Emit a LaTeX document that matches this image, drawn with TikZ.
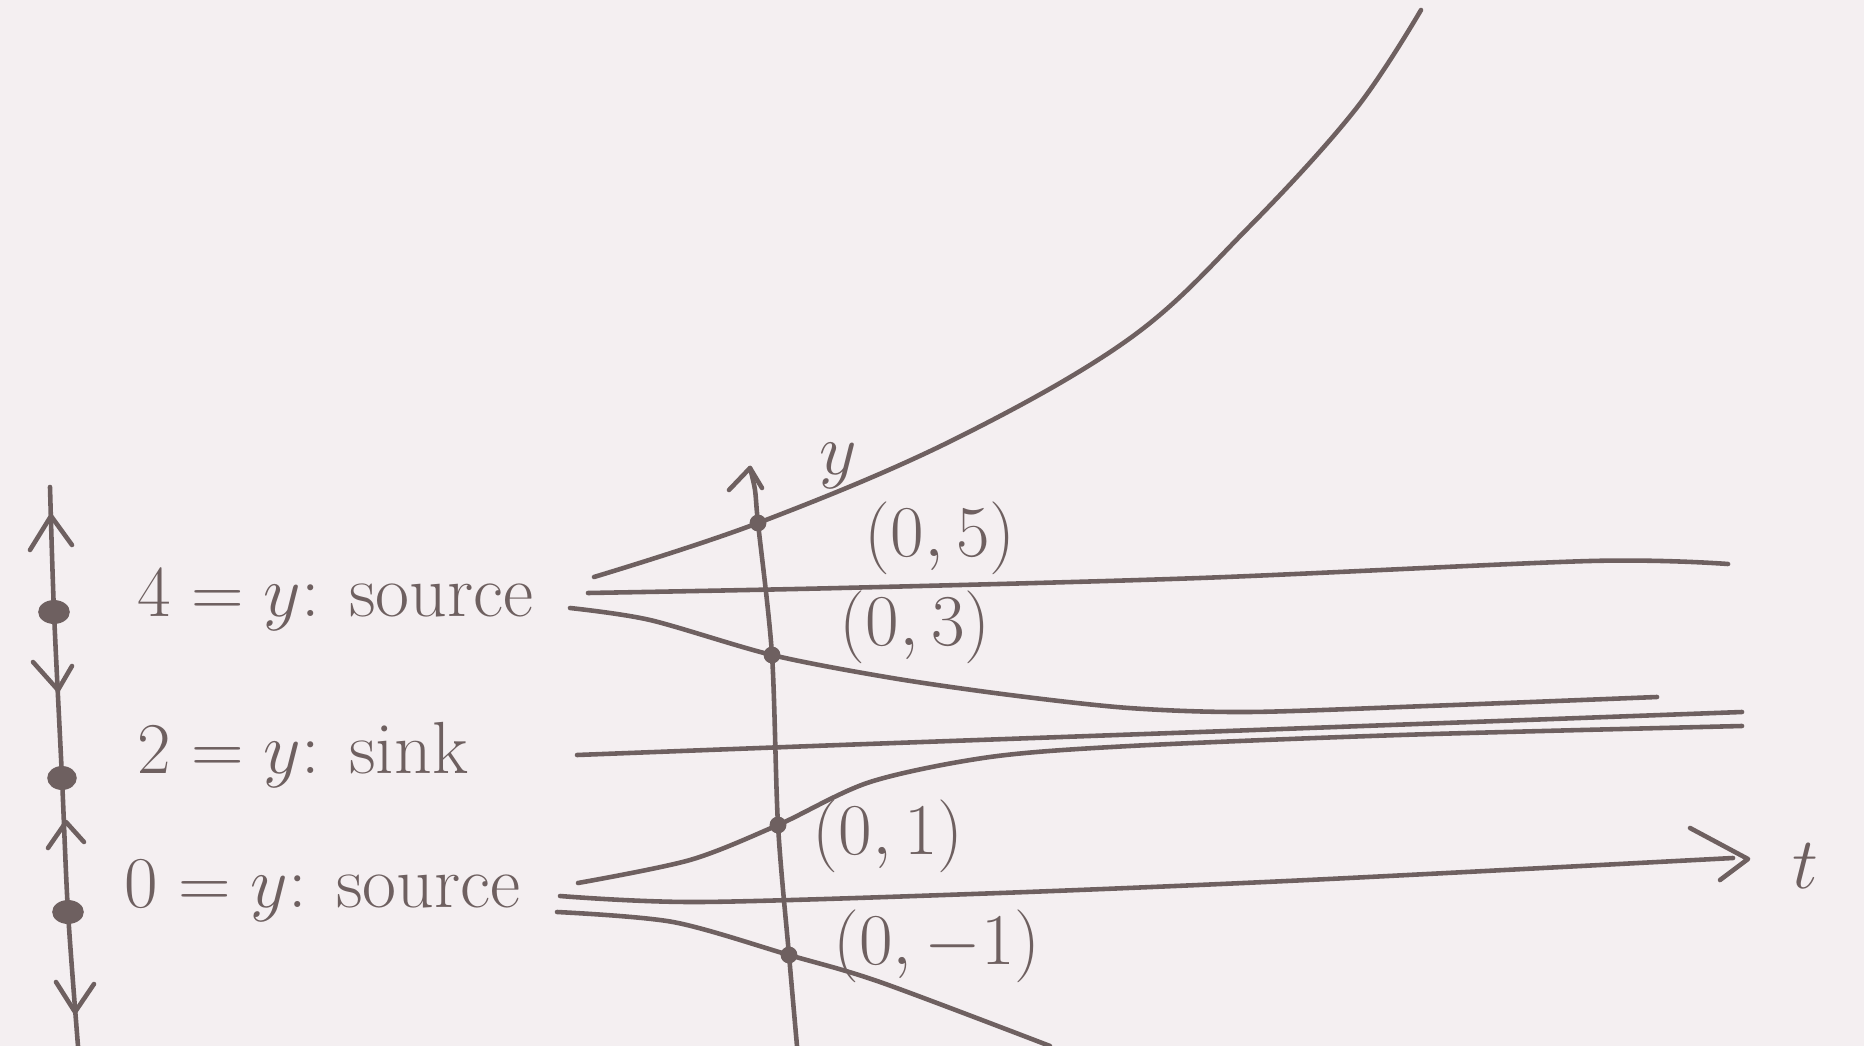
\documentclass[tikz,border=0pt]{standalone}
\usepackage{amsmath,amssymb}
\usepackage{xcolor}
\usepackage{tikz}
\usetikzlibrary{calc,arrows}

\definecolor{pencil}{RGB}{110,96,96}
\definecolor{paper}{RGB}{244,239,241}

\begin{document}
\begin{tikzpicture}[x=0.01cm,y=-0.01cm,>=stealth,line cap=round,line join=round]
			\tikzset{curve/.style={pencil,line width=1.3pt},
				lbl/.style={pencil,font=\fontsize{21}{25}\selectfont},
				pt/.style={pencil,font=\fontsize{20}{24}\selectfont}}
			\fill[paper] (0,0) rectangle (1864,1046);
			\useasboundingbox (0,0) rectangle (1864,1046);
			
			% phase line on the left
			\coordinate (S4) at (54,612);
			\coordinate (S2) at (62,778);
			\coordinate (S0) at (68,912);
			\draw[curve] plot[smooth] coordinates {(50,487) (S4) (S2) (S0) (78,1046)};
			\draw[curve] (30,550)--(51,516)--(72,545);
			\draw[curve] (33,662)--(58,690)--(72,666);
			\draw[curve] (48,848)--(66,822)--(84,842);
			\draw[curve] (56,982)--(75,1012)--(94,984);
			\fill[pencil] (S4) ellipse (4.5pt and 3.4pt);
			\fill[pencil] (S2) ellipse (4.2pt and 3.4pt);
			\fill[pencil] (S0) ellipse (4.5pt and 3.4pt);
			\node[lbl,anchor=base west] (L4) at (125,616) {$4=y$: source};
			\node[lbl,anchor=base west] (L2) at (125,773) {$2=y$: sink};
			\node[lbl,anchor=base west] (L0) at (112,907) {$0=y$: source};
			
			% points on the y axis
			\coordinate (D5) at (758,523);
			\coordinate (D3) at (772,655);
			\coordinate (D1) at (778,825);
			\coordinate (Dm) at (789,955);
			
			% axes
			\draw[curve] plot[smooth] coordinates {(750,468) (755,490) (D5) (D3) (D1) (Dm) (797,1046)};
			\draw[curve] (729,490)--(750,468)--(762,488);
			\node[lbl] (ylab) at (838,466) {$y$};
			\coordinate (T0) at (560,896);
			\coordinate (T1) at (1733,858);
			\draw[curve] plot[smooth] coordinates {(T0) (700,902) (1000,893) (1308,880) (T1)};
			\draw[curve] (1690,828)--(1748,859)--(1720,880);
			\node[lbl] (tlab) at (1805,866) {$t$};
			
			% solution curves
			\draw[curve] plot[smooth,tension=0.6] coordinates {(594,577) (D5) (951,441) (1129,339) (1248,228) (1355,110) (1421,10)};
			\draw[curve] plot[smooth] coordinates {(588,593) (840,588) (1200,578) (1590,561) (1728,564)};
			\draw[curve] plot[smooth] coordinates {(570,608) (650,620) (D3) (892,678) (1010,695) (1129,708) (1248,712) (1427,706) (1657,697)};
			\draw[curve] plot[smooth] coordinates {(577,755) (840,745) (1200,732) (1742,712)};
			\draw[curve] plot[smooth] coordinates {(578,883) (690,860) (D1) (870,782) (990,757) (1130,746) (1400,735) (1742,726)};
			\draw[curve] plot[smooth] coordinates {(557,912) (673,922) (Dm) (880,982) (1050,1046)};
			
			\fill[pencil] (D5) circle (2.4pt);
			\fill[pencil] (D3) circle (2.4pt);
			\fill[pencil] (D1) circle (2.4pt);
			\fill[pencil] (Dm) circle (2.4pt);
			\node[pt] (P5) at (940,538) {$(0,5)$};
			\node[pt] (P3) at (915,627) {$(0,3)$};
			\node[pt] (P1) at (888,836) {$(0,1)$};
			\node[pt] (Pm) at (937,946) {$(0,-1)$};
		\end{tikzpicture}
\end{document}
